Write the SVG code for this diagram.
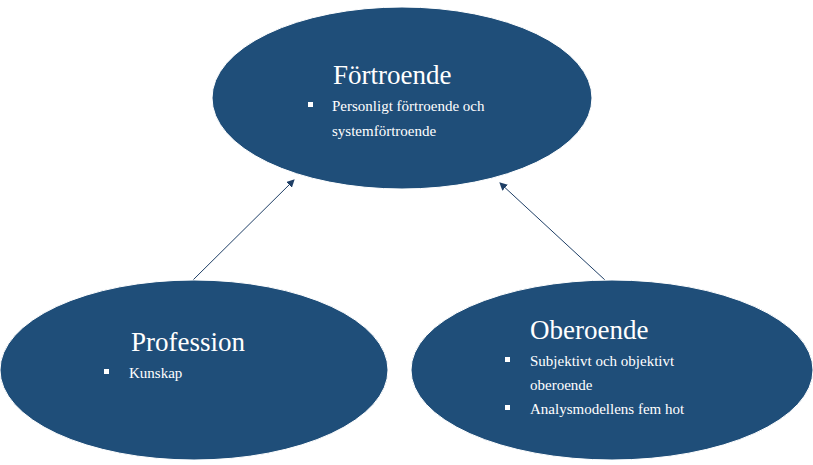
<svg xmlns="http://www.w3.org/2000/svg" width="813" height="465" viewBox="0 0 813 465">
<style>
.n{fill:#1f4e79;stroke:#fff;stroke-width:1}
text{font-family:"Liberation Serif",serif;fill:#fff}
.t{font-size:27px}
.b{font-size:15px}
.c{stroke:#1f3f66;stroke-width:1;fill:none;marker-end:url(#a)}
</style>
<defs><marker id="a" markerWidth="8" markerHeight="8" refX="7" refY="4" orient="auto" markerUnits="userSpaceOnUse"><path d="M0,0L8,4L0,8z" fill="#1f3f66"/></marker></defs>
<rect width="813" height="465" fill="#fff"/>
<g id="connectors">
<line class="c" x1="193" y1="280" x2="294" y2="180"/>
<line class="c" x1="605" y1="280" x2="500" y2="183"/>
</g>
<g id="fortroende">
<ellipse class="n" cx="402" cy="98" rx="190" ry="91"/>
<text class="t" x="333" y="84">Förtroende</text>
<rect x="308" y="102" width="5" height="5" fill="#fff"/>
<text class="b" x="332" y="111">Personligt förtroende och</text>
<text class="b" x="332" y="136">systemförtroende</text>
</g>
<g id="profession">
<ellipse class="n" cx="194" cy="370" rx="194" ry="90"/>
<text class="t" x="131" y="351">Profession</text>
<rect x="104" y="369" width="5" height="5" fill="#fff"/>
<text class="b" x="129" y="378">Kunskap</text>
</g>
<g id="oberoende">
<ellipse class="n" cx="612" cy="370" rx="201" ry="90"/>
<text class="t" x="530" y="339">Oberoende</text>
<rect x="505" y="357" width="5" height="5" fill="#fff"/>
<text class="b" x="530" y="366">Subjektivt och objektivt</text>
<text class="b" x="530" y="390">oberoende</text>
<rect x="505" y="405" width="5" height="5" fill="#fff"/>
<text class="b" x="530" y="414">Analysmodellens fem hot</text>
</g>
</svg>
